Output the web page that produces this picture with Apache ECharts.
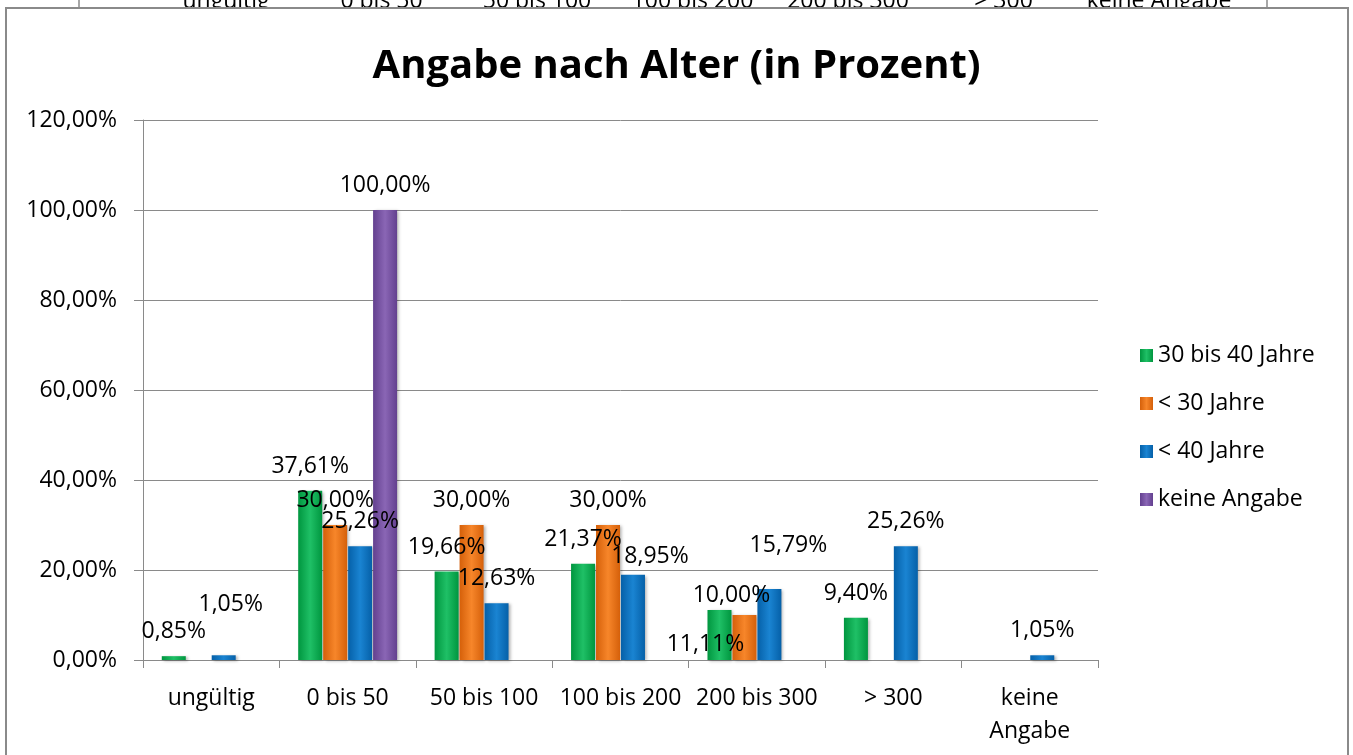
<!DOCTYPE html>
<html>
<head>
<meta charset="utf-8">
<script src="https://cdn.jsdelivr.net/npm/echarts@6/dist/echarts.min.js"></script>
<style>
html,body{margin:0;padding:0;background:#fff;}
#chart{width:1353px;height:755px;}
</style>
</head>
<body>
<div id="chart"></div>
<script>
// ---- data ----
const categories = ['ungültig', '0 bis 50', '50 bis 100', '100 bis 200', '200 bis 300', '> 300', 'keine Angabe'];
const seriesNames = ['30 bis 40 Jahre', '< 30 Jahre', '< 40 Jahre', 'keine Angabe'];
const s30bis40 = [0.85, 37.61, 19.66, 21.37, 11.11, 9.40, null];
const sUnter30 = [null, 30.00, 30.00, 30.00, 10.00, null, null];
const sUnter40 = [1.05, 25.26, 12.63, 18.95, 15.79, 25.26, 1.05];
const sKeine = [null, 100.00, null, null, null, null, null];
const yTicks = { min: 0, max: 120, interval: 20 };

// ---- styling ----
const FONT = 'Open Sans';
const FS = 23;
const colors = [
  ['#00963f', '#1fc066', '#00963f'],
  ['#d5600a', '#f7862a', '#d5600a'],
  ['#0560a8', '#1a84d2', '#0560a8'],
  ['#63408f', '#8a66b5', '#63408f']
];
// label nudges (Excel's collision-avoided placements)
const labelNudges = [
  { 4: [-14, 59] },
  { 4: [-13, 5] },
  { 0: [7, -26], 3: [17, 6], 4: [19, -19] },
  {}
];
const fmt = v => v.toFixed(2).replace('.', ',') + '%';
const allValues = [s30bis40, sUnter30, sUnter40, sKeine];

const series = allValues.map((vals, si) => ({
  name: seriesNames[si],
  type: 'bar',
  barWidth: 24,
  barGap: '4%',
  itemStyle: {
    color: new echarts.graphic.LinearGradient(0, 0, 1, 0, [
      { offset: 0, color: colors[si][0] },
      { offset: 0.5, color: colors[si][1] },
      { offset: 1, color: colors[si][2] }
    ]),
    shadowColor: 'rgba(0,0,0,0.3)',
    shadowBlur: 3,
    shadowOffsetX: 2,
    shadowOffsetY: 1
  },
  label: {
    show: true,
    position: 'top',
    distance: 13,
    color: '#000',
    fontFamily: FONT,
    fontSize: FS,
    formatter: p => fmt(p.value)
  },
  data: vals.map((v, i) => {
    const n = labelNudges[si][i];
    if (v === null) return '-';
    return n ? { value: v, label: { offset: n } } : v;
  })
}));

const stripTexts = categories.map((c, i) => ({
  type: 'text',
  z: -20,
  x: 226 + i * 155.5,
  y: 13,
  style: { text: c, fontFamily: FONT, fontSize: FS, fill: '#000', align: 'center', verticalAlign: 'bottom' }
}));

const chart = echarts.init(document.getElementById('chart'), null, { renderer: 'canvas' });
chart.setOption({
  backgroundColor: '#fff',
  animation: false,
  textStyle: { fontFamily: FONT },
  title: {
    text: 'Angabe nach Alter (in Prozent)',
    left: 'center',
    top: 42,
    textStyle: { fontFamily: FONT, fontSize: 40, fontWeight: 'bold', color: '#000' }
  },
  legend: {
    orient: 'vertical',
    left: 1140,
    top: 344,
    padding: 0,
    icon: 'rect',
    itemWidth: 13,
    itemHeight: 13,
    itemGap: 25,
    textStyle: { fontFamily: FONT, fontSize: FS, color: '#000' },
    data: seriesNames
  },
  graphic: [
    ...stripTexts,
    { type: 'line', z: -20, shape: { x1: 79, y1: 0, x2: 79, y2: 8 }, style: { stroke: '#8a8a8a', lineWidth: 1.5 } },
    { type: 'line', z: -20, shape: { x1: 1267, y1: 0, x2: 1267, y2: 8 }, style: { stroke: '#8a8a8a', lineWidth: 1.5 } },
    { type: 'rect', z: -10, shape: { x: 6, y: 8, width: 1342, height: 780 }, style: { fill: '#fff', stroke: '#8a8a8a', lineWidth: 2 } }
  ],
  grid: { left: 143, right: 255, top: 120, bottom: 95, containLabel: false, outerBoundsMode: 'none' },
  xAxis: {
    type: 'category',
    data: categories,
    axisLine: { show: true, lineStyle: { color: '#8a8a8a', width: 1 } },
    axisTick: { show: true, length: 8, lineStyle: { color: '#8a8a8a' } },
    axisLabel: {
      interval: 0,
      margin: 22,
      color: '#000',
      fontFamily: FONT,
      fontSize: FS,
      lineHeight: 33,
      formatter: v => v === 'keine Angabe' ? 'keine\nAngabe' : v
    }
  },
  yAxis: {
    type: 'value',
    min: yTicks.min,
    max: yTicks.max,
    interval: yTicks.interval,
    axisLine: { show: true, lineStyle: { color: '#8a8a8a', width: 1 } },
    axisTick: { show: true, length: 9, lineStyle: { color: '#8a8a8a' } },
    splitLine: { show: true, lineStyle: { color: '#8a8a8a', width: 1 } },
    axisLabel: { margin: 26, color: '#000', fontFamily: FONT, fontSize: FS, formatter: v => fmt(v) }
  },
  series: series
});
</script>
</body>
</html>
